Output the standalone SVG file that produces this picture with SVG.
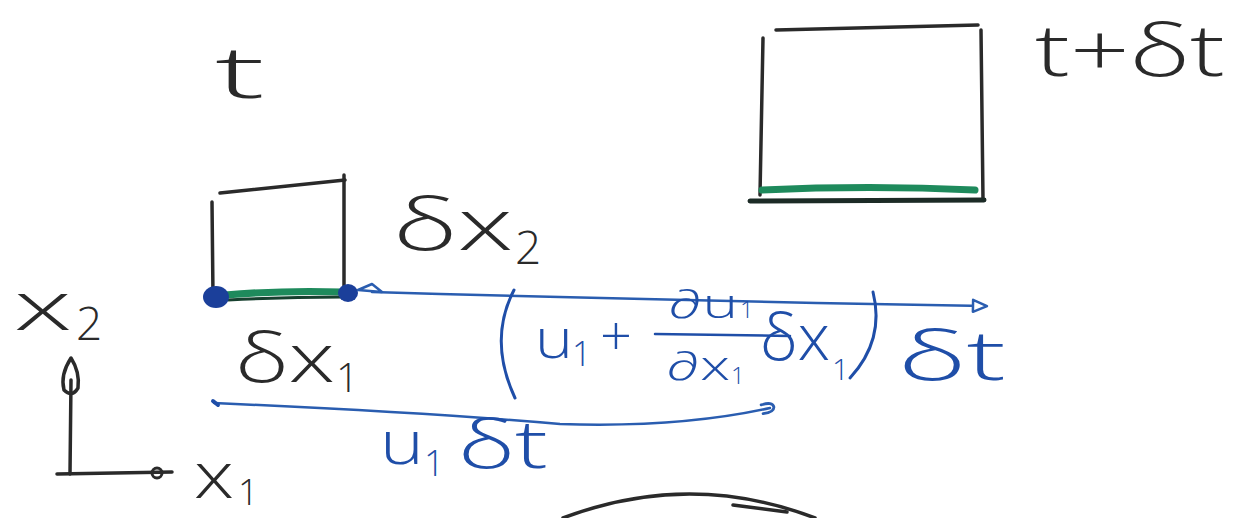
<svg xmlns="http://www.w3.org/2000/svg" width="1258" height="518" viewBox="0 0 1258 518">
<defs>
<style>
.ink{fill:none;stroke:#2a2a2a;stroke-width:3.5;stroke-linecap:round;stroke-linejoin:round}
.blue{fill:none;stroke:#2a5db0;stroke-width:2.5;stroke-linecap:round;stroke-linejoin:round}
.green{fill:none;stroke:#1e8a5c;stroke-width:7;stroke-linecap:round}
.tk{font-family:"Open Sans","Liberation Sans","DejaVu Sans",sans-serif;font-weight:300;fill:#2a2a2a}
.tb{font-family:"Open Sans","Liberation Sans","DejaVu Sans",sans-serif;font-weight:300;fill:#1f4ea8}
</style>
<marker id="openTri" markerWidth="20" markerHeight="16" refX="14" refY="8" orient="auto" markerUnits="userSpaceOnUse">
<path d="M2,2 L16,8 L2,14 Z" fill="#ffffff" stroke="#2a5db0" stroke-width="2.5" stroke-linejoin="round"/>
</marker>
<marker id="hook" markerWidth="20" markerHeight="16" refX="10" refY="8" orient="auto" markerUnits="userSpaceOnUse">
<path d="M2,3 Q14,2 14,8 Q13,13 2,12" fill="none" stroke="#2a5db0" stroke-width="2.8" stroke-linecap="round"/>
</marker>
</defs>

<rect width="1258" height="518" fill="#ffffff"/>

<g id="box-t">
<path class="ink" d="M212,202 L213,296"/>
<path class="ink" d="M220,193 L345,180"/>
<path class="ink" d="M344,175 L344,295"/>
<path class="green" d="M225,295 Q285,290 342,292"/>
<path d="M228,300 Q285,297 342,297" fill="none" stroke="#17402f" stroke-width="3"/>
<ellipse cx="216" cy="297" rx="13" ry="11" fill="#1b3f9a"/>
<ellipse cx="348" cy="293" rx="10" ry="9" fill="#1b3f9a"/>
<text class="tk" x="215" y="98" font-size="72" textLength="50" lengthAdjust="spacingAndGlyphs">t</text>
</g>

<g id="box-tdt">
<path class="ink" d="M763,38 L760,195"/>
<path class="ink" d="M776,30 L978,25"/>
<path class="ink" d="M981,30 L983,200"/>
<path class="green" d="M762,190 Q870,185 975,190"/>
<path d="M750,201 L984,200" fill="none" stroke="#1c2b26" stroke-width="5" stroke-linecap="round"/>
<text class="tk" x="1035" y="76" font-size="72" textLength="190" lengthAdjust="spacingAndGlyphs">t+δt</text>
</g>

<g id="label-dx2">
<text class="tk" x="393" y="250" font-size="72" textLength="120" lengthAdjust="spacingAndGlyphs">δx</text>
<text class="tk" x="515" y="264" font-size="46">2</text>
</g>

<g id="axes">
<path class="ink" d="M70,474 L71,380"/>
<path class="ink" d="M71,358 Q60,375 64,390 Q72,398 78,388 Q80,372 71,358 Z"/>
<path class="ink" d="M57,474 L172,472"/>
<circle cx="157" cy="473" r="5" fill="none" stroke="#2a2a2a" stroke-width="3"/>
<text class="tk" x="14" y="330" font-size="68" textLength="58" lengthAdjust="spacingAndGlyphs">x</text>
<text class="tk" x="76" y="340" font-size="46">2</text>
<text class="tk" x="194" y="498" font-size="64" textLength="40" lengthAdjust="spacingAndGlyphs">x</text>
<text class="tk" x="238" y="505" font-size="36">1</text>
</g>

<g id="label-dx1">
<text class="tk" x="235" y="382" font-size="68" textLength="100" lengthAdjust="spacingAndGlyphs">δx</text>
<text class="tk" x="336" y="392" font-size="40">1</text>
</g>

<g id="connectors">
<path class="blue" d="M372,292 Q650,300 985,306" marker-end="url(#openTri)"/>
<path d="M358,290 L372,284 L382,292 Z" fill="#ffffff" stroke="#2a5db0" stroke-width="2.5" stroke-linejoin="round"/>
<path class="blue" d="M214,403 Q420,412 560,424 Q680,428 770,408" marker-end="url(#hook)"/>
<path d="M213,401 L218,405" stroke="#1f4ea8" stroke-width="4" stroke-linecap="round"/>
</g>

<g id="label-u1dt">
<text class="tb" x="380" y="464" font-size="60" textLength="44" lengthAdjust="spacingAndGlyphs">u</text>
<text class="tb" x="424" y="476" font-size="36">1</text>
<text class="tb" x="458" y="468" font-size="66" textLength="90" lengthAdjust="spacingAndGlyphs">δt</text>
</g>

<g id="label-flux">
<path d="M514,290 Q488,340 515,398" fill="none" stroke="#1f4ea8" stroke-width="3" stroke-linecap="round"/>
<text class="tb" x="535" y="358" font-size="56" textLength="38" lengthAdjust="spacingAndGlyphs">u</text>
<text class="tb" x="572" y="366" font-size="34">1</text>
<text class="tb" x="600" y="355" font-size="56">+</text>
<text class="tb" x="668" y="318" font-size="40" textLength="70" lengthAdjust="spacingAndGlyphs">∂u</text>
<text class="tb" x="740" y="318" font-size="24">1</text>
<path d="M655,334 L790,336" stroke="#1f4ea8" stroke-width="2.5" stroke-linecap="round"/>
<text class="tb" x="666" y="380" font-size="40" textLength="64" lengthAdjust="spacingAndGlyphs">∂x</text>
<text class="tb" x="731" y="384" font-size="24">1</text>
<text class="tb" x="760" y="360" font-size="64" textLength="70" lengthAdjust="spacingAndGlyphs">δx</text>
<text class="tb" x="832" y="380" font-size="30">1</text>
<path d="M873,292 Q885,340 850,378" fill="none" stroke="#1f4ea8" stroke-width="3" stroke-linecap="round"/>
<text class="tb" x="898" y="380" font-size="68" textLength="108" lengthAdjust="spacingAndGlyphs">δt</text>
</g>

<g id="bottom-arc">
<path class="ink" d="M563,518 Q690,470 815,518" stroke-width="2.5"/>
<path class="ink" d="M733,505 L787,512" stroke-width="2.5"/>
</g>
</svg>
